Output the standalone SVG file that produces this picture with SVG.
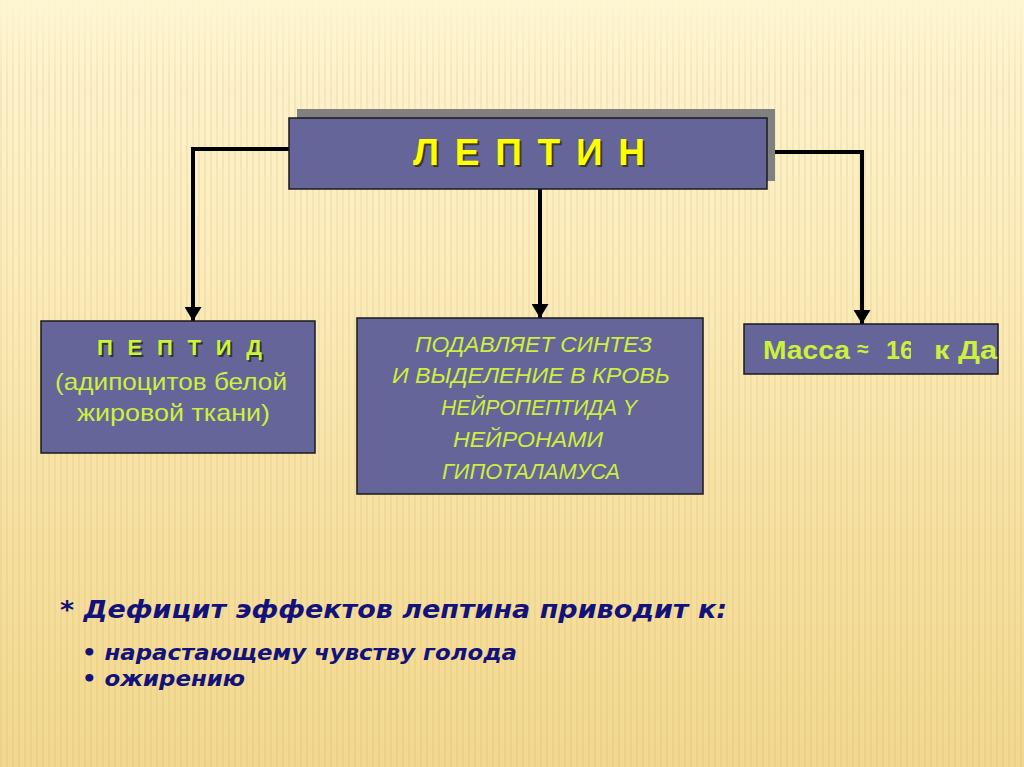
<svg xmlns="http://www.w3.org/2000/svg" width="1024" height="767" viewBox="0 0 1024 767">
<defs>
<linearGradient id="bg" x1="0" y1="0" x2="0" y2="1">
<stop offset="0" stop-color="#fef5d2"/>
<stop offset="0.35" stop-color="#fbecbb"/>
<stop offset="0.7" stop-color="#f6e0a0"/>
<stop offset="1" stop-color="#f2d88e"/>
</linearGradient>
<pattern id="stripes" width="6" height="40" patternUnits="userSpaceOnUse">
<rect x="0" y="0" width="2" height="40" fill="#c8a050" opacity="0.12"/>
</pattern>
<linearGradient id="fade" x1="0" y1="0" x2="0" y2="1">
<stop offset="0" stop-color="#fff" stop-opacity="0"/>
<stop offset="0.1" stop-color="#fff" stop-opacity="1"/>
<stop offset="1" stop-color="#fff" stop-opacity="1"/>
</linearGradient>
<mask id="m"><rect x="0" y="0" width="1024" height="767" fill="url(#fade)"/></mask>
<marker id="arr" viewBox="0 0 14 17" refX="14" refY="8.5" markerWidth="3.5" markerHeight="4.25" orient="auto" markerUnits="strokeWidth">
<path d="M0,0 L14,8.5 L0,17 z" fill="#000"/>
</marker>
<clipPath id="clip16"><rect x="880" y="320" width="31" height="60"/></clipPath>
<style>
.box{fill:#65659a;stroke:#1a1a1a;stroke-width:1.5}
.con{fill:none;stroke:#000;stroke-width:4}
.yg{fill:#cdf03c;font-family:"Liberation Sans",Arial,sans-serif}
.bot{fill:#12127a;font-family:"DejaVu Sans",Verdana,sans-serif;font-weight:bold;font-style:italic}
</style>
</defs>
<rect x="0" y="0" width="1024" height="767" fill="url(#bg)"/>
<rect x="0" y="0" width="1024" height="767" fill="url(#stripes)" mask="url(#m)"/>

<g id="connectors">
<polyline class="con" points="289,149 193,149 193,321" marker-end="url(#arr)"/>
<polyline class="con" points="540,189 540,318" marker-end="url(#arr)"/>
<polyline class="con" points="767,152 862,152 862,324" marker-end="url(#arr)"/>
</g>

<g id="leptin">
<rect x="297" y="109" width="478" height="72" fill="#808080"/>
<rect class="box" x="289" y="118" width="478" height="71"/>
<text x="415" y="167" font-family="Liberation Sans,Arial,sans-serif" font-weight="bold" font-size="37" fill="#3a3a20" textLength="232" lengthAdjust="spacing">Л Е П Т И Н</text>
<text x="413" y="165" font-family="Liberation Sans,Arial,sans-serif" font-weight="bold" font-size="37" fill="#ffff00" textLength="232" lengthAdjust="spacing">Л Е П Т И Н</text>
</g>

<g id="peptide">
<rect class="box" x="41" y="321" width="274" height="132"/>
<text x="99" y="357" font-family="Liberation Sans,Arial,sans-serif" font-weight="bold" font-size="22" fill="#333" textLength="165" lengthAdjust="spacing">П Е П Т И Д</text>
<text x="97" y="355" font-family="Liberation Sans,Arial,sans-serif" font-weight="bold" font-size="22" fill="#ccf53a" textLength="165" lengthAdjust="spacing">П Е П Т И Д</text>
<text class="yg" x="55" y="390" font-size="24" textLength="232" lengthAdjust="spacingAndGlyphs">(адипоцитов белой</text>
<text class="yg" x="77" y="421" font-size="24" textLength="193" lengthAdjust="spacingAndGlyphs">жировой ткани)</text>
</g>

<g id="suppress">
<rect class="box" x="357" y="318" width="346" height="176"/>
<g class="yg" font-style="italic" font-size="22">
<text x="415" y="352" textLength="237" lengthAdjust="spacingAndGlyphs">ПОДАВЛЯЕТ СИНТЕЗ</text>
<text x="392" y="383" textLength="278" lengthAdjust="spacingAndGlyphs">И  ВЫДЕЛЕНИЕ В КРОВЬ</text>
<text x="441" y="415" textLength="196" lengthAdjust="spacingAndGlyphs">НЕЙРОПЕПТИДА Y</text>
<text x="453" y="447" textLength="150" lengthAdjust="spacingAndGlyphs">НЕЙРОНАМИ</text>
<text x="442" y="479" textLength="178" lengthAdjust="spacingAndGlyphs">ГИПОТАЛАМУСА</text>
</g>
</g>

<g id="mass">
<rect class="box" x="744" y="324" width="254" height="50"/>
<text class="yg" x="763" y="359" font-size="25" font-weight="bold" textLength="87" lengthAdjust="spacingAndGlyphs">Масса</text>
<text class="yg" x="857" y="356" font-size="21" font-weight="bold">≈</text>
<text class="yg" x="886" y="359" font-size="25" font-weight="bold" clip-path="url(#clip16)">16</text>
<text class="yg" x="934" y="359" font-size="25" font-weight="bold" textLength="63" lengthAdjust="spacingAndGlyphs">к Да</text>
</g>

<g id="notes">
<text class="bot" x="60" y="618" font-size="25" textLength="667" lengthAdjust="spacingAndGlyphs">* Дефицит  эффектов  лептина  приводит  к:</text>
<text class="bot" x="82" y="660" font-size="21" textLength="435" lengthAdjust="spacingAndGlyphs">• нарастающему чувству голода</text>
<text class="bot" x="82" y="686" font-size="21" textLength="163" lengthAdjust="spacingAndGlyphs">• ожирению</text>
</g>
</svg>
